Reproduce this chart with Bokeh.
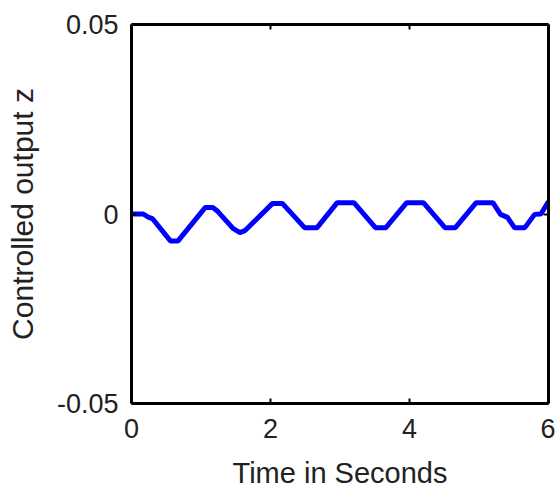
from bokeh.plotting import figure
from bokeh.models import LinearAxis, FixedTicker, Range1d
from bokeh.embed import file_html
from bokeh.resources import INLINE

# Data
time_s = [0.0, 0.17, 0.24, 0.30, 0.56, 0.67, 1.06, 1.17, 1.24, 1.46, 1.56, 1.63,
          2.03, 2.17, 2.49, 2.67, 2.96, 3.20, 3.51, 3.66, 3.96, 4.20, 4.51, 4.66,
          4.96, 5.20, 5.31, 5.41, 5.51, 5.66, 5.80, 5.89, 6.0]
z_out = [0.0, 0.0, -0.0008, -0.0012, -0.0071, -0.0071, 0.0017, 0.0017, 0.0007, -0.0038, -0.0049, -0.0044,
         0.0028, 0.0028, -0.0036, -0.0036, 0.0030, 0.0030, -0.0036, -0.0036, 0.0030, 0.0030, -0.0036, -0.0036,
         0.0030, 0.0030, -0.0001, -0.0009, -0.0036, -0.0036, -0.0001, 0.0, 0.0033]

x_ticks = [0, 2, 4, 6]
y_ticks = [-0.05, 0, 0.05]
y_tick_labels = {-0.05: "-0.05", 0: "0", 0.05: "0.05"}
x_tick_labels = {0: "0", 2: "2", 4: "4", 6: "6"}

FONT = "Liberation Sans"

p = figure(width=555, height=491, output_backend="svg", toolbar_location=None,
           x_range=Range1d(0, 6), y_range=Range1d(-0.05, 0.05),
           x_axis_location=None, y_axis_location=None,
           min_border_left=131, min_border_right=7, min_border_top=24, min_border_bottom=88)
p.grid.visible = False
p.outline_line_color = None
p.background_fill_color = "white"
p.border_fill_color = "white"

def style(ax, labels=True):
    ax.axis_line_color = "black"
    ax.axis_line_width = 3
    ax.major_tick_in = 5
    ax.major_tick_out = 0
    ax.major_tick_line_width = 2
    ax.minor_tick_line_color = None
    ax.major_label_text_font = FONT
    ax.major_label_text_font_size = "27px"
    ax.major_label_text_color = "#222222"
    ax.axis_label_text_font = FONT
    ax.axis_label_text_font_style = "normal"
    ax.axis_label_text_color = "#222222"
    if not labels:
        ax.major_label_text_alpha = 0
        ax.major_label_text_font_size = "1px"

left = LinearAxis(ticker=FixedTicker(ticks=y_ticks), major_label_overrides=y_tick_labels,
                  axis_label="Controlled output z")
style(left)
left.axis_label_text_font_size = "30px"
left.major_label_standoff = 13
left.axis_label_standoff = 15
p.add_layout(left, "left")

bottom = LinearAxis(ticker=FixedTicker(ticks=x_ticks), major_label_overrides=x_tick_labels,
                    axis_label="Time in Seconds")
style(bottom)
bottom.axis_label_text_font_size = "29px"
bottom.major_label_standoff = 15
bottom.axis_label_standoff = 16
p.add_layout(bottom, "below")

right = LinearAxis(ticker=FixedTicker(ticks=y_ticks))
style(right, labels=False)
p.add_layout(right, "right")

top = LinearAxis(ticker=FixedTicker(ticks=x_ticks))
style(top, labels=False)
p.add_layout(top, "above")

p.line(time_s, z_out, line_color="#0000ff", line_width=5)

open("out.html", "w").write(file_html(p, INLINE))
